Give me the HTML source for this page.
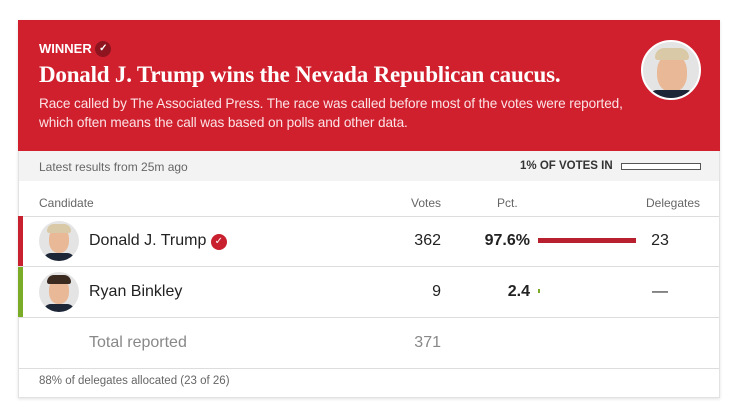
<!DOCTYPE html>
<html><head><meta charset="utf-8"><style>
*{box-sizing:border-box;margin:0;padding:0}
body{width:736px;height:416px;background:#fff;font-family:"Liberation Sans",sans-serif;position:relative;overflow:hidden}
.abs{position:absolute;white-space:nowrap}
#card{position:absolute;left:18px;top:20px;width:702px;height:378px;border:1px solid #e2e2e2;box-shadow:0 1px 3px rgba(0,0,0,.12)}
#hdr{position:absolute;left:18px;top:20px;width:702px;height:131px;background:#d0202e}
.g{color:#666}
.line{position:absolute;left:19px;width:700px;height:1px;background:#ddd}
.avatar{position:absolute;width:40px;height:40px;border-radius:50%;background:#e4e4e4;overflow:hidden}
.face{position:absolute;left:10px;top:6px;width:20px;height:26px;border-radius:45%;background:#e9b896}
.hair{position:absolute;left:8px;top:3px;width:24px;height:9px;border-radius:10px 10px 3px 3px}
.suit{position:absolute;left:4px;top:32px;width:32px;height:12px;border-radius:8px 8px 0 0;background:#1d2636}
</style></head><body>
<div id="card"></div>
<div id="hdr"></div>
<div class="abs" style="left:39px;top:41px;color:#fff;font-weight:bold;font-size:13px;line-height:16px">WINNER <span style="display:inline-block;width:16px;height:16px;border-radius:50%;background:#8e1420;color:#fff;font-size:10px;text-align:center;line-height:16px;vertical-align:top">✓</span></div>
<div class="abs" style="left:39px;top:62px;color:#fff;font-family:'Liberation Serif',serif;font-weight:bold;font-size:23px;letter-spacing:-0.2px">Donald J. Trump wins the Nevada Republican caucus.</div>
<div class="abs" style="left:39px;top:94px;color:#fbe3e5;font-size:13.6px;line-height:19px;letter-spacing:-0.1px">Race called by The Associated Press. The race was called before most of the votes were reported,<br>which often means the call was based on polls and other data.</div>
<div class="avatar" style="left:641px;top:40px;width:60px;height:60px;border:2px solid #fff"><div class="face" style="left:14px;top:12px;width:30px;height:38px"></div><div class="hair" style="left:12px;top:6px;width:34px;height:12px;background:#d9c9a6"></div><div class="suit" style="left:6px;top:48px;width:46px;height:14px"></div></div>
<div class="abs" style="left:19px;top:151px;width:700px;height:30px;background:#f3f3f3"></div>
<div class="abs g" style="left:39px;top:160px;font-size:12px">Latest results from 25m ago</div>
<div class="abs" style="left:520px;top:160px;font-size:11.5px;font-weight:bold;color:#333">1% OF VOTES IN</div>
<div class="abs" style="left:621px;top:163px;width:80px;height:7px;border:1px solid #555;background:#fff"></div>
<div class="abs g" style="left:39px;top:196px;font-size:12px">Candidate</div>
<div class="abs g" style="left:411px;top:196px;font-size:12px">Votes</div>
<div class="abs g" style="left:497px;top:196px;font-size:12px">Pct.</div>
<div class="abs g" style="left:646px;top:196px;font-size:12px">Delegates</div>
<div class="line" style="top:216px"></div><div class="line" style="top:266px"></div><div class="line" style="top:317px"></div><div class="line" style="top:368px"></div>
<div id="rows"></div>
<div class="abs" style="left:89px;top:334px;font-size:16px;color:#888">Total reported</div>
<div class="abs" style="left:381px;width:60px;text-align:right;top:334px;font-size:16px;color:#888">371</div>
<div class="abs g" style="left:39px;top:375px;font-size:11.5px">88% of delegates allocated (23 of 26)</div>
<script>
const candidates=["Donald J. Trump","Ryan Binkley"];
const votes=[362,9];
const pcts=[97.6,2.4];
const pctLabels=["97.6%","2.4"];
const delegates=["23","—"];
const colors=["#c8202f","#7aac27"];
const hair=["#d9c9a6","#3a2a20"];
const barX=538,barW=100;
const xScale=v=>v/100*barW;
const rows=document.getElementById('rows');
candidates.forEach((c,i)=>{
 const top=216+i*51;
 const el=document.createElement('div');
 
 
 el.innerHTML=`<div class="abs" style="left:18px;top:${top}px;width:5px;height:50px;background:${colors[i]}"></div>
 <div class="avatar" style="left:39px;top:${top+5}px"><div class="face"></div><div class="hair" style="background:${hair[i]}"></div><div class="suit"></div></div>
 <div class="abs" style="left:89px;top:${top+16}px;font-size:16px;color:#222">${c}${i==0?' <span style="display:inline-block;width:16px;height:16px;border-radius:50%;background:#c8202f;color:#fff;font-size:10px;text-align:center;line-height:16px;vertical-align:1px">✓</span>':''}</div>
 <div class="abs" style="left:381px;width:60px;text-align:right;top:${top+16}px;font-size:16px;color:#222">${votes[i]}</div>
 <div class="abs" style="left:470px;width:60px;text-align:right;top:${top+16}px;font-size:16px;font-weight:bold;color:#222">${pctLabels[i]}</div>
 <div class="abs" style="left:640px;width:40px;text-align:center;top:${top+16}px;font-size:16px;color:#222">${delegates[i]}</div>`;
 rows.appendChild(el);
 const bar=document.createElement('div');
 
 
 bar.className='abs';
 bar.style.cssText=`left:${barX}px;top:${top+22}px;width:${Math.max(2,xScale(pcts[i]))}px;height:${i==0?5:4}px;background:${i==0?'#b8202f':colors[i]}`;
 rows.appendChild(bar);
});
</script>
</body></html>
